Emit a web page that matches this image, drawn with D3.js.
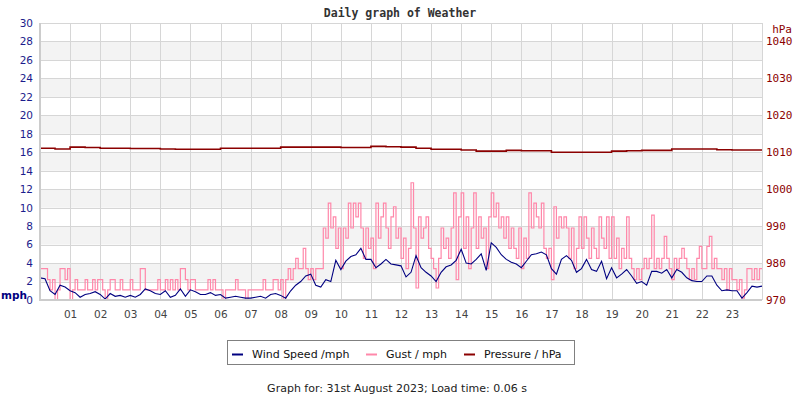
<!DOCTYPE html>
<html>
<head>
<meta charset="utf-8">
<script src="https://cdn.jsdelivr.net/npm/d3@7"></script>
<style>
  body { margin: 0; background: #fff; }
  svg { display: block; }
</style>
</head>
<body>
<svg id="chart" width="800" height="400"></svg>
<script>
`use strict`;

// wind speed, mph, one value every 10 minutes (00:00 .. 24:00)
const windSpeed = [
  2.4, 2.3, 1.0, 0.6, 1.6, 1.4,
  1.0, 0.8, 0.3, 0.6, 0.7, 0.9,
  0.6, 0.1, 0.7, 0.4, 0.5, 0.3,
  0.5, 0.3, 0.6, 1.2, 1.0, 0.7,
  0.6, 1.0, 0.3, 0.5, 1.2, 0.4,
  1.1, 0.9, 0.6, 0.6, 0.8, 0.5,
  0.6, 0.2, 0.3, 0.4, 0.3, 0.2,
  0.2, 0.3, 0.4, 0.2, 0.6, 0.7,
  0.5, 0.2, 1.0, 1.6, 2.0, 2.6,
  2.8, 1.6, 1.4, 2.2, 2.0, 4.3,
  3.3, 4.2, 4.7, 4.9, 5.6, 4.4,
  4.4, 3.5, 3.9, 4.4, 3.9, 3.8,
  3.7, 2.5, 3.0, 4.8, 3.5, 3.0,
  2.6, 2.0, 3.0, 3.6, 3.8, 4.3,
  5.5, 4.0, 3.9, 4.4, 5.0, 3.2,
  6.2, 5.7, 4.9, 4.4, 4.1, 3.9,
  3.5, 4.2, 4.9, 5.0, 5.2, 4.9,
  3.4, 2.8, 4.4, 4.8, 4.3, 3.0,
  3.4, 4.4, 3.3, 3.1, 4.2, 2.3,
  3.5, 2.4, 2.8, 3.3, 2.6, 1.8,
  2.0, 1.6, 3.1, 3.1, 2.9, 3.3,
  2.4, 3.3, 3.0, 2.4, 2.1, 2.0,
  2.0, 2.6, 2.6, 1.6, 1.0, 1.1,
  1.0, 1.0, 0.2, 0.8, 1.5, 1.4,
  1.5
];

// gust, mph, one value every 5 minutes
const gust = [
  3.4, 3.4, 3.4, 2.2, 1.1, 2.2, 0, 1.1, 3.4, 3.4, 2.2, 3.4,
  0, 1.1, 2.2, 1.1, 1.1, 1.1, 2.2, 1.1, 1.1, 2.2, 1.1, 2.2,
  2.2, 1.1, 0, 1.1, 2.2, 2.2, 1.1, 1.1, 2.2, 1.1, 1.1, 1.1,
  2.2, 1.1, 1.1, 1.1, 3.4, 3.4, 1.1, 1.1, 1.1, 1.1, 1.1, 2.2,
  1.1, 1.1, 2.2, 1.1, 2.2, 1.1, 2.2, 1.1, 3.4, 3.4, 2.2, 1.1,
  2.2, 2.2, 1.1, 1.1, 1.1, 1.1, 1.1, 2.2, 1.1, 2.2, 1.1, 1.1,
  1.1, 0, 1.1, 1.1, 1.1, 1.1, 2.2, 1.1, 1.1, 1.1, 0, 1.1,
  1.1, 1.1, 1.1, 1.1, 1.1, 2.2, 1.1, 1.1, 1.1, 2.2, 2.2, 1.1,
  2.2, 0, 2.2, 3.4, 2.2, 3.4, 4.5, 3.4, 3.4, 5.6, 3.4, 2.2,
  3.4, 2.2, 3.4, 3.4, 3.4, 7.8, 6.7, 10.5, 7.8, 9.0, 5.6, 7.8,
  3.4, 7.8, 6.7, 10.5, 7.8, 10.5, 9.0, 10.5, 7.8, 4.5, 7.8, 5.6,
  6.7, 3.4, 10.5, 6.7, 9.0, 10.5, 7.8, 5.6, 9.0, 10.1, 6.7, 7.8,
  4.5, 6.7, 3.4, 5.6, 12.7, 7.8, 1.3, 9.0, 6.7, 7.8, 9.0, 5.6,
  4.5, 3.4, 1.3, 4.5, 7.8, 5.6, 6.7, 4.5, 7.8, 11.6, 2.2, 9.0,
  11.6, 5.6, 9.0, 3.4, 7.8, 11.6, 5.6, 9.0, 6.7, 7.8, 3.4, 9.0,
  11.6, 9.0, 10.5, 7.8, 9.0, 6.7, 9.0, 5.6, 7.8, 5.6, 4.5, 7.8,
  3.4, 6.7, 4.5, 11.6, 7.8, 10.5, 9.0, 7.8, 10.5, 5.6, 4.5, 5.6,
  2.2, 10.1, 6.7, 9.0, 7.8, 9.0, 7.8, 4.5, 7.8, 3.4, 5.6, 9.0,
  5.6, 9.0, 6.7, 4.5, 7.8, 5.6, 4.5, 9.0, 6.7, 5.6, 9.0, 4.5,
  9.0, 4.5, 6.7, 3.4, 5.6, 4.5, 9.0, 4.5, 3.4, 2.2, 3.4, 2.2,
  3.4, 4.5, 3.4, 4.5, 9.2, 3.4, 4.5, 3.4, 4.5, 6.9, 4.5, 3.4,
  2.2, 4.5, 3.4, 4.5, 5.6, 4.5, 3.4, 2.2, 3.4, 2.2, 4.5, 5.8,
  3.4, 3.4, 5.8, 6.9, 3.4, 4.5, 3.4, 3.4, 2.2, 3.4, 1.1, 3.4,
  2.2, 2.2, 1.1, 2.2, 0.2, 1.1, 3.4, 3.4, 2.2, 3.4, 2.2, 3.4,
  3.4
];

// pressure, hPa, one value every 30 minutes
const pressure = [
  1011.1, 1010.9, 1011.4, 1011.3, 1011.1, 1011.1, 1011.0, 1011.0,
  1010.9, 1010.8, 1010.8, 1010.8, 1011.1, 1011.1, 1011.1, 1011.1,
  1011.4, 1011.4, 1011.4, 1011.4, 1011.3, 1011.3, 1011.6, 1011.5,
  1011.4, 1011.1, 1010.8, 1010.8, 1010.6, 1010.3, 1010.3, 1010.5,
  1010.4, 1010.4, 1010.0, 1010.0, 1010.0, 1010.0, 1010.3, 1010.4,
  1010.5, 1010.5, 1010.9, 1010.9, 1010.9, 1010.7, 1010.6, 1010.6,
  1010.6
];

const hourTicks = d3.range(1, 24);
const mphTicks = d3.range(0, 31, 2);
const hPaTicks = [970, 980, 990, 1000, 1010, 1020, 1030, 1040];

const legendItems = [
  {label: `Wind Speed /mph`, color: `#000080`},
  {label: `Gust / mph`, color: `#ff88aa`},
  {label: `Pressure / hPa`, color: `#8b0000`}
];

(function () {

  const L = 40, R = 762, T = 23, B = 300;

  const svg = d3.select(`#chart`);

  const x = d3.scaleLinear().domain([0, 24]).range([L, R]);
  const yW = d3.scaleLinear().domain([0, 30]).range([B, T]);
  const yP = d3.scaleLinear().domain([970, 1045]).range([B, T]);

  // title
  svg.append(`text`)
    .attr(`x`, 400).attr(`y`, 17)
    .attr(`text-anchor`, `middle`)
    .style(`font-family`, `'DejaVu Sans Mono', monospace`)
    .style(`font-weight`, `bold`)
    .style(`font-size`, `11.5px`)
    .style(`fill`, `#333`)
    .text(`Daily graph of Weather`);

  // alternating bands
  svg.append(`g`).selectAll(`rect`).data(d3.range(2, 28, 4))
    .enter()
    .append(`rect`)
    .attr(`x`, L).attr(`width`, R - L)
    .attr(`y`, d => yW(d + 2))
    .attr(`height`, d => yW(d) - yW(d + 2))
    .attr(`fill`, `#f3f3f3`);

  const grid = svg.append(`g`)
    .attr(`stroke`, `#d6d6d6`)
    .attr(`stroke-width`, 1)
    .attr(`shape-rendering`, `crispEdges`);

  grid.selectAll(`line.h`).data(mphTicks.slice(1))
    .enter()
    .append(`line`)
    .attr(`x1`, L).attr(`x2`, R)
    .attr(`y1`, d => Math.round(yW(d)) + .5)
    .attr(`y2`, d => Math.round(yW(d)) + .5);

  grid.selectAll(`line.v`).data(hourTicks.concat([24]))
    .enter()
    .append(`line`)
    .attr(`y1`, T).attr(`y2`, B)
    .attr(`x1`, d => Math.round(x(d)) + .5)
    .attr(`x2`, d => Math.round(x(d)) + .5);

  // gust
  svg.append(`path`)
    .datum(gust)
    .attr(`fill`, `none`)
    .attr(`stroke`, `#ff88aa`)
    .attr(`stroke-width`, 1.2)
    .attr(`d`, d3.line()
      .x((d, i) => x(i / 12))
      .y(d => yW(d))
      .curve(d3.curveStepAfter));

  // wind speed
  svg.append(`path`)
    .datum(windSpeed)
    .attr(`fill`, `none`)
    .attr(`stroke`, `#000080`)
    .attr(`stroke-width`, 1.1)
    .attr(`d`, d3.line()
      .x((d, i) => x(i / 6))
      .y(d => yW(d)));

  // pressure
  svg.append(`path`)
    .datum(pressure)
    .attr(`fill`, `none`)
    .attr(`stroke`, `#8b0000`)
    .attr(`stroke-width`, 1.6)
    .attr(`d`, d3.line()
      .x((d, i) => x(i / 2))
      .y(d => yP(d))
      .curve(d3.curveStepAfter));

  // axis lines
  svg.append(`line`)
    .attr(`x1`, L).attr(`x2`, L).attr(`y1`, T).attr(`y2`, B + 1)
    .attr(`stroke`, `#cccccc`).attr(`stroke-width`, 2);

  svg.append(`line`)
    .attr(`x1`, L).attr(`x2`, R).attr(`y1`, B).attr(`y2`, B)
    .attr(`stroke`, `#cccccc`).attr(`stroke-width`, 2);

  // left axis
  const axL = svg.append(`g`)
    .attr(`transform`, `translate(${L},0)`)
    .call(d3.axisLeft(yW).tickValues(mphTicks).tickSize(0).tickPadding(7));

  axL.select(`.domain`).remove();

  axL.selectAll(`text`)
    .style(`font-family`, `'DejaVu Sans', sans-serif`)
    .style(`font-size`, `10.5px`)
    .style(`fill`, `#1c1c8c`);

  svg.append(`text`)
    .attr(`x`, 1).attr(`y`, 299)
    .style(`font-family`, `'DejaVu Sans', sans-serif`)
    .style(`font-weight`, `bold`)
    .style(`font-size`, `10.5px`)
    .style(`fill`, `#000080`)
    .text(`mph`);

  // right axis
  const axR = svg.append(`g`)
    .attr(`transform`, `translate(${R},0)`)
    .call(d3.axisRight(yP).tickValues(hPaTicks).tickSize(0).tickPadding(4)
      .tickFormat(d3.format(`d`)));

  axR.select(`.domain`).remove();

  axR.selectAll(`text`)
    .style(`font-family`, `'DejaVu Sans Mono', monospace`)
    .style(`font-size`, `11px`)
    .style(`fill`, `#8b0000`);

  svg.append(`text`)
    .attr(`x`, 792).attr(`y`, 33)
    .attr(`text-anchor`, `end`)
    .style(`font-family`, `'DejaVu Sans Mono', monospace`)
    .style(`font-size`, `11px`)
    .style(`fill`, `#8b0000`)
    .text(`hPa`);

  // bottom axis
  const axB = svg.append(`g`)
    .attr(`transform`, `translate(0,${B})`)
    .call(d3.axisBottom(x).tickValues(hourTicks).tickSize(0).tickPadding(11)
      .tickFormat(d => d3.format(`02d`)(d)));

  axB.select(`.domain`).remove();

  axB.selectAll(`text`)
    .style(`font-family`, `'DejaVu Sans', sans-serif`)
    .style(`font-size`, `10.5px`)
    .style(`fill`, `#444`);

  // legend
  const lg = svg.append(`g`);

  lg.append(`rect`)
    .attr(`x`, 227.5).attr(`y`, 340.5)
    .attr(`width`, 347).attr(`height`, 24)
    .attr(`fill`, `#fff`)
    .attr(`stroke`, `#808080`);

  const lgX = [232, 366, 464];

  const item = lg.selectAll(`g.item`).data(legendItems)
    .enter()
    .append(`g`)
    .attr(`transform`, (d, i) => `translate(${lgX[i]},0)`);

  item.append(`line`)
    .attr(`x1`, 0).attr(`x2`, 11)
    .attr(`y1`, 354.5).attr(`y2`, 354.5)
    .attr(`stroke`, d => d.color)
    .attr(`stroke-width`, 2);

  item.append(`text`)
    .attr(`x`, 20).attr(`y`, 357.5)
    .style(`font-family`, `'DejaVu Sans', sans-serif`)
    .style(`font-size`, `11px`)
    .style(`fill`, `#111`)
    .text(d => d.label);

  // footer
  svg.append(`text`)
    .attr(`x`, 397).attr(`y`, 391.5)
    .attr(`text-anchor`, `middle`)
    .style(`font-family`, `'DejaVu Sans', sans-serif`)
    .style(`font-size`, `11px`)
    .style(`fill`, `#222`)
    .text(`Graph for: 31st August 2023; Load time: 0.06 s`);
})();
</script>
</body>
</html>
